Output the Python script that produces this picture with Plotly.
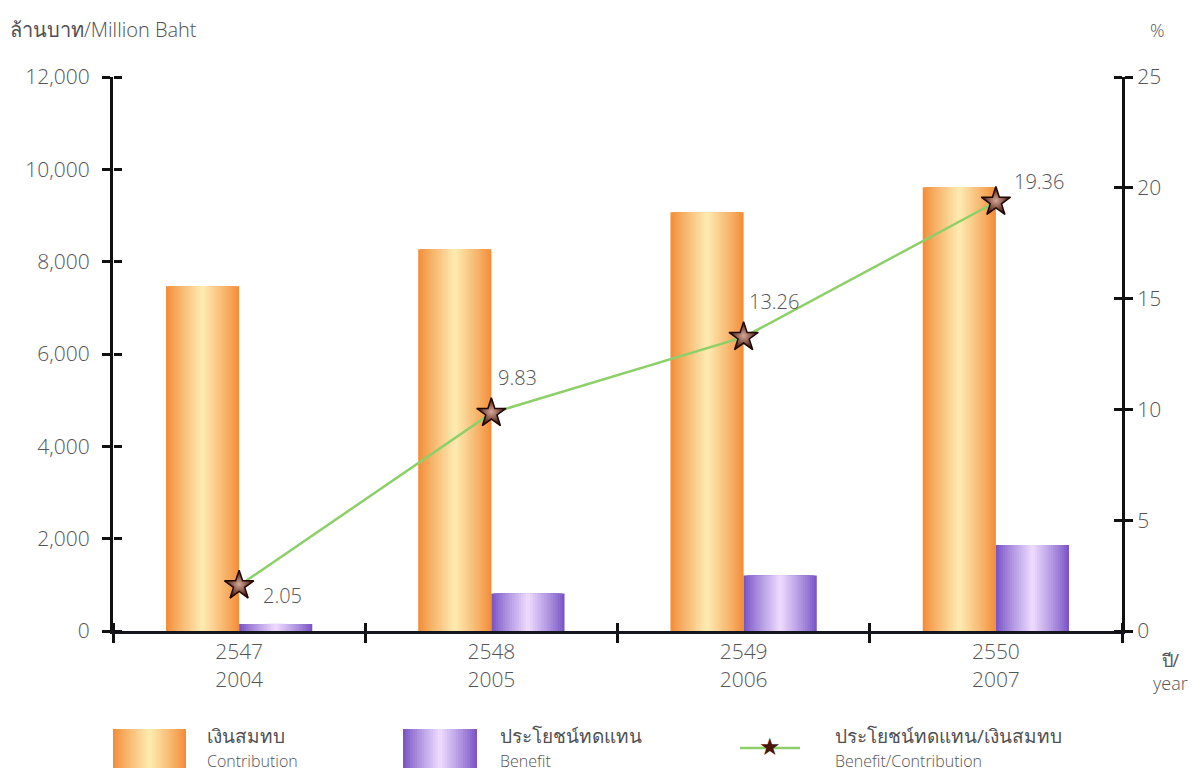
import plotly.graph_objects as go

# Buddhist-era and Gregorian year labels
years_be = ["2547", "2548", "2549", "2550"]
years_ce = ["2004", "2005", "2006", "2007"]

# Million baht
contribution = [7470, 8270, 9070, 9610]
benefit = [153, 813, 1203, 1861]

# Benefit / Contribution, %
ratio = [2.05, 9.83, 13.26, 19.36]

categories = [f"{a}<br>{b}" for a, b in zip(years_be, years_ce)]

# Plot-area edges in pixels (used for legend placement in paper units)
L, R, T, B = 113, 1122, 77, 631


def px(x):
    return (x - L) / (R - L)


def py(y):
    return (B - y) / (B - T)


def hex_to_rgb(h):
    h = h.lstrip("#")
    return tuple(int(h[i:i + 2], 16) for i in (0, 2, 4))


def blend(c1, c2, t):
    a, b = hex_to_rgb(c1), hex_to_rgb(c2)
    return "rgb(%d,%d,%d)" % tuple(round(a[i] + (b[i] - a[i]) * t) for i in range(3))


N_LAYERS = 16
ORANGE_EDGE, ORANGE_MID = "#F38E3A", "#FDE9AE"
PURPLE_EDGE, PURPLE_MID = "#7A56C6", "#EBD8FC"
BAR_W = 0.29

font_main = "Open Sans, Liberation Sans, sans-serif"

fig = go.Figure()


def add_gradient_bars(values, name, edge, mid, offset):
    """Stack narrowing bars so each column fades from its edges to a light centre."""
    for k in range(N_LAYERS):
        frac = 1 - k / N_LAYERS
        t = (k / (N_LAYERS - 1)) ** 0.9
        width = BAR_W * frac
        fig.add_trace(go.Bar(
            x=categories, y=values, name=name,
            width=[width] * len(values),
            offset=[offset + (BAR_W - width) / 2] * len(values),
            marker=dict(color=blend(edge, mid, t), line=dict(width=0)),
            showlegend=False,
            hoverinfo="y+name" if k == 0 else "skip",
        ))


add_gradient_bars(contribution, "เงินสมทบ Contribution", ORANGE_EDGE, ORANGE_MID, -BAR_W)
add_gradient_bars(benefit, "ประโยชน์ทดแทน Benefit", PURPLE_EDGE, PURPLE_MID, 0)

fig.add_trace(go.Scatter(
    x=categories, y=ratio, yaxis="y2", mode="lines+markers",
    name="ประโยชน์ทดแทน/เงินสมทบ Benefit/Contribution",
    line=dict(color="#8DCF68", width=2.5),
    marker=dict(symbol="star", size=22, color="#360F03",
                line=dict(color="#220700", width=1.5),
                gradient=dict(type="radial", color="#D8A898")),
    showlegend=False,
))

# Invisible anchor points so the overlay axes carrying the inner tick halves get drawn
fig.add_trace(go.Scatter(x=[0], y=[0], xaxis="x2", yaxis="y", mode="markers",
                         marker=dict(size=1, opacity=0), showlegend=False, hoverinfo="skip"))
fig.add_trace(go.Scatter(x=[categories[0]], y=[0], xaxis="x", yaxis="y3", mode="markers",
                         marker=dict(size=1, opacity=0), showlegend=False, hoverinfo="skip"))
fig.add_trace(go.Scatter(x=[categories[0]], y=[0], xaxis="x", yaxis="y4", mode="markers",
                         marker=dict(size=1, opacity=0), showlegend=False, hoverinfo="skip"))

# Value labels beside each star
label_shift = [(22, -10), (5, 36), (3, 36), (16, 20)]
annotations = []
for cat, v, (dx, dy) in zip(categories, ratio, label_shift):
    annotations.append(dict(
        x=cat, y=v, xref="x", yref="y2", text=f"{v:.2f}", showarrow=False,
        xanchor="left", yanchor="middle", xshift=dx, yshift=dy,
        font=dict(size=20, color="#555555", family=font_main, weight=300),
    ))

# Axis captions
annotations += [
    dict(x=px(8), y=py(30), xref="paper", yref="paper",
         text="ล้านบาท<span style='font-weight:300'>/Million Baht</span>",
         showarrow=False, xanchor="left", yanchor="middle",
         font=dict(size=20, color="#505050", family=font_main)),
    dict(x=px(1157), y=py(30), xref="paper", yref="paper", text="%",
         showarrow=False, xanchor="center", yanchor="middle",
         font=dict(size=18, color="#555555", family=font_main, weight=300)),
    dict(x=px(1170), y=py(671), xref="paper", yref="paper",
         text="ปี/<br><span style='font-weight:300'>year</span>",
         showarrow=False, xanchor="center", yanchor="middle",
         font=dict(size=18, color="#555555", family=font_main)),
]

# Custom legend: large gradient swatches with two-line labels
shapes = []


def swatch(x0, x1, y0, y1, edge, mid):
    for k in range(N_LAYERS):
        frac = 1 - k / N_LAYERS
        t = (k / (N_LAYERS - 1)) ** 0.9
        cx, half = (x0 + x1) / 2, (x1 - x0) / 2 * frac
        shapes.append(dict(
            type="rect", xref="paper", yref="paper",
            x0=px(cx - half), x1=px(cx + half), y0=py(y1), y1=py(y0),
            fillcolor=blend(edge, mid, t), line=dict(width=0), layer="above",
        ))


swatch(113, 186, 729, 768, ORANGE_EDGE, ORANGE_MID)
swatch(403, 477, 729, 768, PURPLE_EDGE, PURPLE_MID)
shapes.append(dict(type="line", xref="paper", yref="paper",
                   x0=px(740), x1=px(800), y0=py(748), y1=py(748),
                   line=dict(color="#8DCF68", width=2.5)))
annotations.append(dict(x=px(770), y=py(747), xref="paper", yref="paper", text="★",
                        showarrow=False, xanchor="center", yanchor="middle",
                        font=dict(size=24, color="#4A1707", family="DejaVu Sans")))

legend_items = [
    (205, "เงินสมทบ", "Contribution"),
    (498, "ประโยชน์ทดแทน", "Benefit"),
    (833, "ประโยชน์ทดแทน/เงินสมทบ", "Benefit/Contribution"),
]
for x, thai, eng in legend_items:
    annotations.append(dict(x=px(x), y=py(736), xref="paper", yref="paper", text=thai,
                            showarrow=False, xanchor="left", yanchor="middle",
                            font=dict(size=19, color="#505050", family=font_main)))
    annotations.append(dict(x=px(x), y=py(761), xref="paper", yref="paper", text=eng,
                            showarrow=False, xanchor="left", yanchor="middle",
                            font=dict(size=16, color="#555555", family=font_main, weight=300)))

tick_font = dict(size=21, color="#555555", family=font_main, weight=300)
axis_col = "#111111"
inner_tick = dict(ticks="outside", ticklen=8, tickwidth=2.5, tickcolor=axis_col,
                  showticklabels=False, showline=False, showgrid=False, zeroline=False)

fig.update_layout(
    width=1202, height=773,
    margin=dict(l=L, r=1202 - R, t=T, b=773 - B),
    paper_bgcolor="white", plot_bgcolor="white",
    barmode="overlay", showlegend=False,
    xaxis=dict(type="category", range=[-0.5, 3.5], tickson="boundaries",
               ticks="outside", ticklen=9, tickwidth=2.5, tickcolor=axis_col,
               showline=True, linecolor="#15151f", linewidth=3,
               showgrid=False, zeroline=False, tickfont=tick_font),
    # Overlay axes placed on the opposite side so their ticks point into the plot,
    # giving the cross-shaped ticks on every axis line
    xaxis2=dict(overlaying="x", anchor="free", position=0, side="top",
                range=[-0.5, 3.5], tickvals=[-0.5, 0.5, 1.5, 2.5, 3.5], **inner_tick),
    yaxis=dict(range=[0, 12000], tickvals=list(range(0, 12001, 2000)), tickformat=",",
               ticks="outside", ticklen=8, tickwidth=2.5, tickcolor=axis_col,
               showline=True, linecolor=axis_col, linewidth=3,
               showgrid=False, zeroline=False, tickfont=tick_font, ticklabelstandoff=8),
    yaxis3=dict(overlaying="y", anchor="free", position=0, side="right",
                range=[0, 12000], tickvals=list(range(0, 12001, 2000)), **inner_tick),
    yaxis2=dict(overlaying="y", anchor="x", side="right", range=[0, 25], dtick=5,
                ticks="outside", ticklen=8, tickwidth=2.5, tickcolor=axis_col,
                showline=True, linecolor=axis_col, linewidth=3,
                showgrid=False, zeroline=False, tickfont=tick_font),
    yaxis4=dict(overlaying="y", anchor="free", position=1, side="left",
                range=[0, 25], dtick=5, **inner_tick),
    annotations=annotations,
    shapes=shapes,
)

fig.write_html("out.html")
